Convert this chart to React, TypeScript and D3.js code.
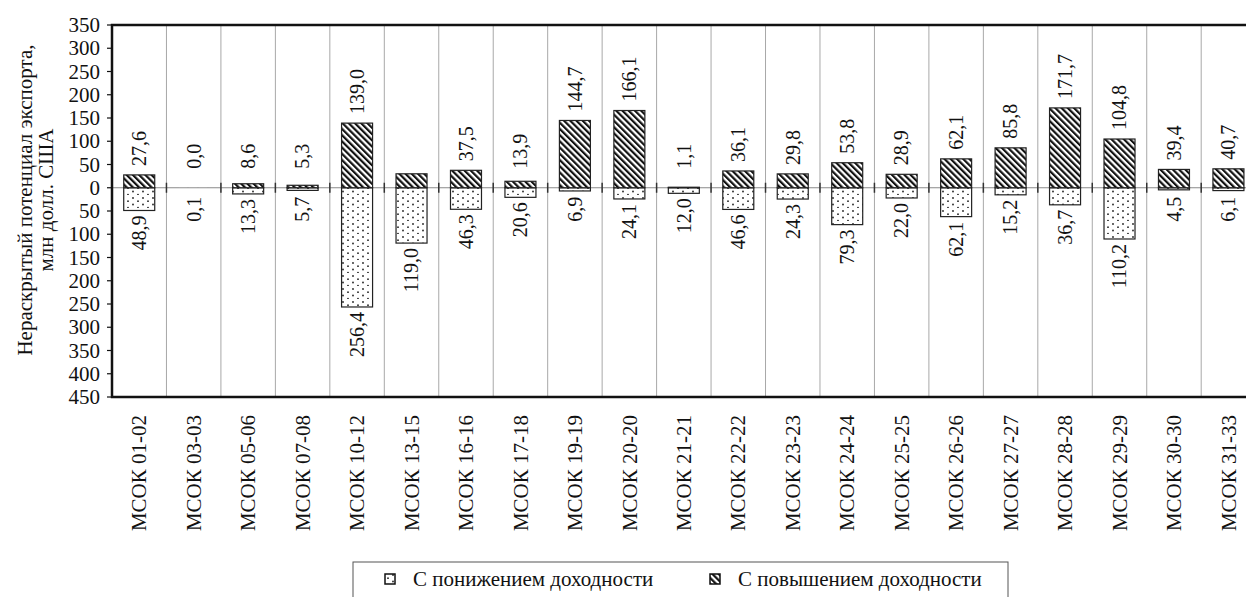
import * as d3 from 'd3';
import { useEffect } from 'react';

const categories = [
  'МСОК 01-02', 'МСОК 03-03', 'МСОК 05-06', 'МСОК 07-08', 'МСОК 10-12', 'МСОК 13-15',
  'МСОК 16-16', 'МСОК 17-18', 'МСОК 19-19', 'МСОК 20-20', 'МСОК 21-21', 'МСОК 22-22',
  'МСОК 23-23', 'МСОК 24-24', 'МСОК 25-25', 'МСОК 26-26', 'МСОК 27-27', 'МСОК 28-28',
  'МСОК 29-29', 'МСОК 30-30', 'МСОК 31-33',
];

// "С повышением доходности" (up, hatched)
const increase = [27.6, 0.0, 8.6, 5.3, 139.0, 30.0, 37.5, 13.9, 144.7, 166.1, 1.1, 36.1, 29.8, 53.8, 28.9, 62.1, 85.8, 171.7, 104.8, 39.4, 40.7];
// labels shown above the hatched bars (null = no label in the original)
const increaseLabels = ['27,6', '0,0', '8,6', '5,3', '139,0', null, '37,5', '13,9', '144,7', '166,1', '1,1', '36,1', '29,8', '53,8', '28,9', '62,1', '85,8', '171,7', '104,8', '39,4', '40,7'];

// "С понижением доходности" (down, dotted)
const decrease = [48.9, 0.1, 13.3, 5.7, 256.4, 119.0, 46.3, 20.6, 6.9, 24.1, 12.0, 46.6, 24.3, 79.3, 22.0, 62.1, 15.2, 36.7, 110.2, 4.5, 6.1];

const yTicks = [350, 300, 250, 200, 150, 100, 50, 0, -50, -100, -150, -200, -250, -300, -350, -400, -450];

const legendItems = ['С понижением доходности', 'С повышением доходности'];

const fmt = (v: number) => v.toFixed(1).replace('.', ',');

const SERIF = { fontFamily: '"Liberation Serif"' };
const INK = '#111';

export default function App() {
  useEffect(() => {
    document.body.style.margin = '0';
  }, []);

  const width = 1246;
  const height = 597;
  const left = 112;
  const top = 25;
  const bottom = 397;
  const band = 54.46;
  const barW = 31;

  const x = d3.scaleBand<string>()
    .domain(categories)
    .range([left, left + band * categories.length])
    .padding(0);

  const y = d3.scaleLinear()
    .domain([-450, 350])
    .range([bottom, top]);

  const y0 = y(0);
  const right = left + band * categories.length;
  const bounds = categories.slice(1).map(c => x(c)!);
  const barX = (i: number) => x(categories[i])! + (band - barW) / 2;
  const mid = (i: number) => x(categories[i])! + band / 2;

  const dotPts = [[3, 3], [3, 9.5], [8, 6.2], [8, 12.7]];

  return (
    <svg width={width} height={height}>
      <defs>
        <pattern id="hatch" patternUnits="userSpaceOnUse" width={4.4} height={4.4} patternTransform="rotate(-45)">
          <rect width={4.4} height={4.4} fill="#fff" />
          <line x1={0} y1={0} x2={0} y2={4.4} stroke={INK} strokeWidth={4.4} />
        </pattern>
        <pattern id="dots" patternUnits="userSpaceOnUse" width={10} height={13}>
          <rect width={10} height={13} fill="#fff" />
          {dotPts.map(([cx, cy], k) => (
            <circle key={k} cx={cx} cy={cy} r={0.9} fill="#222" />
          ))}
        </pattern>
      </defs>

      {/* vertical gridlines */}
      {bounds.map((b, i) => (
        <line key={`g${i}`} x1={b} x2={b} y1={top} y2={bottom} stroke="#a8a8a8" strokeWidth={1} />
      ))}

      {/* zero line */}
      <line x1={left} x2={right} y1={y0} y2={y0} stroke="#8a8a8a" strokeWidth={1} />

      {/* bars */}
      {decrease.map((d, i) => (
        <rect key={`n${i}`} x={barX(i)} y={y0} width={barW} height={y(-d) - y0}
          fill="url(#dots)" stroke={d > 0.5 ? '#222' : 'none'} strokeWidth={1.2} />
      ))}
      {increase.map((d, i) => (
        <rect key={`p${i}`} x={barX(i)} y={y(d)} width={barW} height={y0 - y(d)}
          fill="url(#hatch)" stroke={d > 0.5 ? '#222' : 'none'} strokeWidth={1.2} />
      ))}

      {/* category ticks crossing zero */}
      {bounds.map((b, i) => (
        <line key={`t${i}`} x1={b} x2={b} y1={y0 - 5} y2={y0 + 5} stroke="#333" strokeWidth={1.5} />
      ))}

      {/* Y-Axis ticks and labels */}
      {yTicks.map(t => (
        <g key={`y${t}`} transform={`translate(0,${y(t)})`}>
          <line x1={left - 5} x2={left} stroke={INK} strokeWidth={1.2} />
          <text x={left - 12} dy="0.34em" textAnchor="end" fill={INK} fontSize={21} style={SERIF}>
            {String(Math.abs(t))}
          </text>
        </g>
      ))}

      {/* frame */}
      <path d={`M${right},${top}H${left}V${bottom}H${right}`} fill="none" stroke={INK} strokeWidth={2.5} />

      {/* Y-Axis title */}
      <text transform="translate(32,200) rotate(-90)" textAnchor="middle" fill={INK} fontSize={21} style={SERIF}>
        <tspan x={0} y={0}>Нераскрытый потенциал экспорта,</tspan>
        <tspan x={0} y={21}>млн долл. США</tspan>
      </text>

      {/* category labels */}
      {categories.map((c, i) => (
        <text key={`c${i}`} transform={`translate(${mid(i)},415) rotate(-90)`} dy="0.34em"
          textAnchor="end" fill={INK} fontSize={21} style={SERIF}>
          {c}
        </text>
      ))}

      {/* value labels above */}
      {increase.map((d, i) => (
        <text key={`lp${i}`} transform={`translate(${mid(i)},${Math.min(y(d), y0 - 10) - 9}) rotate(-90)`}
          dy="0.34em" textAnchor="start" fill={INK} fontSize={20} style={SERIF}>
          {increaseLabels[i] ?? ''}
        </text>
      ))}

      {/* value labels below */}
      {decrease.map((d, i) => (
        <text key={`ln${i}`} transform={`translate(${mid(i)},${Math.max(y(-d), y0 + 4) + 5}) rotate(-90)`}
          dy="0.34em" textAnchor="end" fill={INK} fontSize={20} style={SERIF}>
          {fmt(d)}
        </text>
      ))}

      {/* legend */}
      <rect x={353} y={562} width={655} height={44} fill="#fff" stroke="#555" strokeWidth={1} />
      {legendItems.map((name, i) => {
        const lx = [385, 710][i];
        return (
          <g key={`lg${i}`}>
            <rect x={lx} y={574} width={10} height={10} fill={i === 0 ? 'url(#dots)' : 'url(#hatch)'}
              stroke={INK} strokeWidth={1.5} />
            <text x={lx + 28} y={586} fill={INK} fontSize={21} style={SERIF}>
              {name}
            </text>
          </g>
        );
      })}
    </svg>
  );
}
